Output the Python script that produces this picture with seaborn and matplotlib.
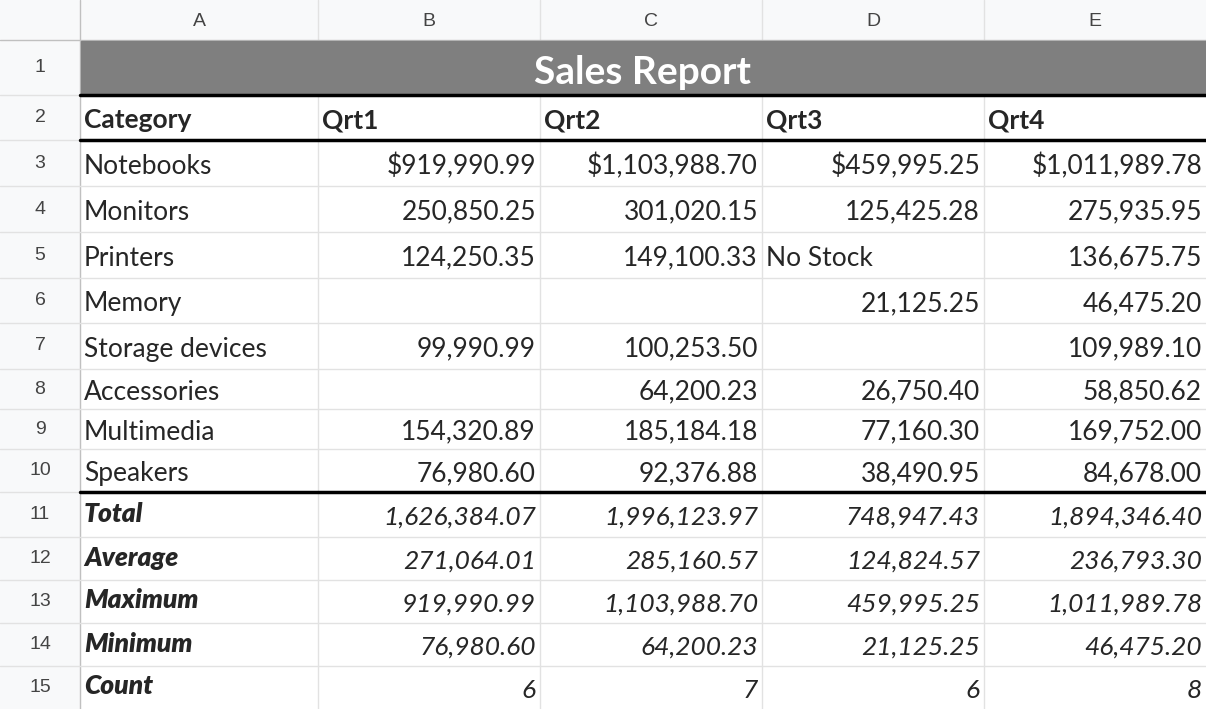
import matplotlib
matplotlib.use("Agg")
import matplotlib.pyplot as plt
import seaborn as sns
from matplotlib.patches import Rectangle

sns.set_style("white")
plt.rcParams['font.family'] = ['Lato', 'DejaVu Sans']

col_letters = ["A", "B", "C", "D", "E"]
title = "Sales Report"
headers = ["Category", "Qrt1", "Qrt2", "Qrt3", "Qrt4"]
categories = ["Notebooks", "Monitors", "Printers", "Memory", "Storage devices",
              "Accessories", "Multimedia", "Speakers"]
qrt1 = ["$919,990.99", "250,850.25", "124,250.35", "", "99,990.99", "", "154,320.89", "76,980.60"]
qrt2 = ["$1,103,988.70", "301,020.15", "149,100.33", "", "100,253.50", "64,200.23", "185,184.18", "92,376.88"]
qrt3 = ["$459,995.25", "125,425.28", "No Stock", "21,125.25", "", "26,750.40", "77,160.30", "38,490.95"]
qrt4 = ["$1,011,989.78", "275,935.95", "136,675.75", "46,475.20", "109,989.10", "58,850.62", "169,752.00", "84,678.00"]
stat_labels = ["Total", "Average", "Maximum", "Minimum", "Count"]
stat_q1 = ["1,626,384.07", "271,064.01", "919,990.99", "76,980.60", "6"]
stat_q2 = ["1,996,123.97", "285,160.57", "1,103,988.70", "64,200.23", "7"]
stat_q3 = ["748,947.43", "124,824.57", "459,995.25", "21,125.25", "6"]
stat_q4 = ["1,894,346.40", "236,793.30", "1,011,989.78", "46,475.20", "8"]

W, H = 1206, 709
xs = [0, 80, 318, 540, 762, 984, 1206]
ys = [0, 40, 95, 140, 186, 232, 278, 323, 369, 409, 449, 492, 537, 580, 623, 666, 709]

fig = plt.figure(figsize=(W / 100, H / 100), dpi=100)
ax = fig.add_axes([0, 0, 1, 1])
ax.set_xlim(0, W)
ax.set_ylim(H, 0)
ax.axis("off")

hdr_bg = "#f8f9fa"
grid = "#e2e2e2"
ax.add_patch(Rectangle((0, 0), W, 40, color=hdr_bg, zorder=0))
ax.add_patch(Rectangle((0, 0), 80, H, color=hdr_bg, zorder=0))
for x in xs[1:-1]:
    ax.plot([x, x], [0, H], color="#c0c0c0" if x == 80 else grid, lw=1, zorder=0.5)
for y in ys[1:-1]:
    ax.plot([0, W], [y, y], color="#c0c0c0" if y == 40 else grid, lw=1, zorder=0.5)
ax.add_patch(Rectangle((81, 41), W - 81, 54, color="#7f7f7f", zorder=1))
for y in [95, 140, 492]:
    ax.plot([80, W], [y, y], color="black", lw=2.5, zorder=3)

for i, c in enumerate(col_letters):
    ax.text((xs[i + 1] + xs[i + 2]) / 2, 21, c, ha="center", va="center",
            fontsize=14, color="#444444", family="Liberation Sans")
for r in range(15):
    ax.text(40, (ys[r + 1] + ys[r + 2]) / 2, str(r + 1), ha="center", va="center",
            fontsize=14, color="#444444", family="Liberation Sans")

ax.text((80 + W) / 2, 72, title, ha="center", va="center", fontsize=28,
        fontweight="bold", color="white", zorder=4)

fs = 19
def cy(r):
    return (ys[r] + ys[r + 1]) / 2 + 3

for i, h in enumerate(headers):
    ax.text(xs[i + 1] + 4, cy(2), h, ha="left", va="center", fontsize=fs, fontweight="bold")

cols = [qrt1, qrt2, qrt3, qrt4]
for r, cat in enumerate(categories):
    row = r + 3
    ax.text(84, cy(row), cat, ha="left", va="center", fontsize=fs)
    for j, col in enumerate(cols):
        v = col[r]
        if not v:
            continue
        if v == "No Stock":
            ax.text(xs[j + 2] + 4, cy(row), v, ha="left", va="center", fontsize=fs)
        else:
            ax.text(xs[j + 3] - 4, cy(row), v, ha="right", va="center", fontsize=fs)

scols = [stat_q1, stat_q2, stat_q3, stat_q4]
for r, lab in enumerate(stat_labels):
    row = r + 11
    ax.text(84, cy(row) - 4, lab, ha="left", va="center", fontsize=fs,
            fontweight="heavy", style="italic")
    for j, col in enumerate(scols):
        ax.text(xs[j + 3] - 4, cy(row), col[r], ha="right", va="center",
                fontsize=fs, style="italic")

fig.savefig("out.png", dpi=100)
